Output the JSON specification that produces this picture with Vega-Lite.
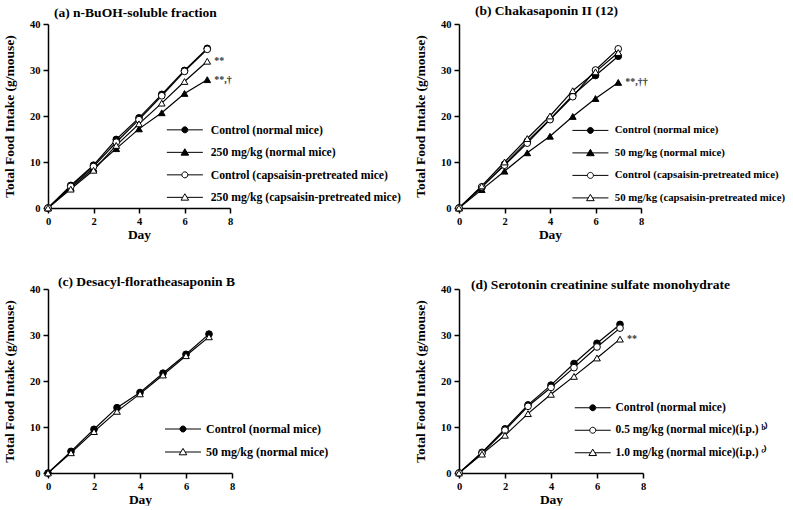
{
  "$schema": "https://vega.github.io/schema/vega-lite/v6.json",
  "background": "white",
  "padding": {"left": 2, "top": 3, "right": 0, "bottom": 0},
  "autosize": {"type": "pad"},
  "data": {"values": [
    {"panel": "a", "series": "Control (normal mice)", "day": 0, "intake": 0},
    {"panel": "a", "series": "Control (normal mice)", "day": 1, "intake": 4.9},
    {"panel": "a", "series": "Control (normal mice)", "day": 2, "intake": 9.3},
    {"panel": "a", "series": "Control (normal mice)", "day": 3, "intake": 14.9},
    {"panel": "a", "series": "Control (normal mice)", "day": 4, "intake": 19.6},
    {"panel": "a", "series": "Control (normal mice)", "day": 5, "intake": 24.7},
    {"panel": "a", "series": "Control (normal mice)", "day": 6, "intake": 29.9},
    {"panel": "a", "series": "Control (normal mice)", "day": 7, "intake": 34.7},
    {"panel": "a", "series": "250 mg/kg (normal mice)", "day": 0, "intake": 0},
    {"panel": "a", "series": "250 mg/kg (normal mice)", "day": 1, "intake": 4.4},
    {"panel": "a", "series": "250 mg/kg (normal mice)", "day": 2, "intake": 8.6},
    {"panel": "a", "series": "250 mg/kg (normal mice)", "day": 3, "intake": 12.9},
    {"panel": "a", "series": "250 mg/kg (normal mice)", "day": 4, "intake": 17.2},
    {"panel": "a", "series": "250 mg/kg (normal mice)", "day": 5, "intake": 20.7},
    {"panel": "a", "series": "250 mg/kg (normal mice)", "day": 6, "intake": 24.9},
    {"panel": "a", "series": "250 mg/kg (normal mice)", "day": 7, "intake": 27.9, "note": "**,†"},
    {"panel": "a", "series": "Control (capsaisin-pretreated mice)", "day": 0, "intake": 0},
    {"panel": "a", "series": "Control (capsaisin-pretreated mice)", "day": 1, "intake": 4.7},
    {"panel": "a", "series": "Control (capsaisin-pretreated mice)", "day": 2, "intake": 9.0},
    {"panel": "a", "series": "Control (capsaisin-pretreated mice)", "day": 3, "intake": 14.3},
    {"panel": "a", "series": "Control (capsaisin-pretreated mice)", "day": 4, "intake": 19.2},
    {"panel": "a", "series": "Control (capsaisin-pretreated mice)", "day": 5, "intake": 24.4},
    {"panel": "a", "series": "Control (capsaisin-pretreated mice)", "day": 6, "intake": 29.7},
    {"panel": "a", "series": "Control (capsaisin-pretreated mice)", "day": 7, "intake": 34.5},
    {"panel": "a", "series": "250 mg/kg (capsaisin-pretreated mice)", "day": 0, "intake": 0},
    {"panel": "a", "series": "250 mg/kg (capsaisin-pretreated mice)", "day": 1, "intake": 4.1},
    {"panel": "a", "series": "250 mg/kg (capsaisin-pretreated mice)", "day": 2, "intake": 8.2},
    {"panel": "a", "series": "250 mg/kg (capsaisin-pretreated mice)", "day": 3, "intake": 13.6},
    {"panel": "a", "series": "250 mg/kg (capsaisin-pretreated mice)", "day": 4, "intake": 18.3},
    {"panel": "a", "series": "250 mg/kg (capsaisin-pretreated mice)", "day": 5, "intake": 22.8},
    {"panel": "a", "series": "250 mg/kg (capsaisin-pretreated mice)", "day": 6, "intake": 27.5},
    {"panel": "a", "series": "250 mg/kg (capsaisin-pretreated mice)", "day": 7, "intake": 31.9, "note": "**"},

    {"panel": "b", "series": "Control (normal mice)", "day": 0, "intake": 0},
    {"panel": "b", "series": "Control (normal mice)", "day": 1, "intake": 4.5},
    {"panel": "b", "series": "Control (normal mice)", "day": 2, "intake": 9.5},
    {"panel": "b", "series": "Control (normal mice)", "day": 3, "intake": 14.5},
    {"panel": "b", "series": "Control (normal mice)", "day": 4, "intake": 19.3},
    {"panel": "b", "series": "Control (normal mice)", "day": 5, "intake": 24.5},
    {"panel": "b", "series": "Control (normal mice)", "day": 6, "intake": 28.8},
    {"panel": "b", "series": "Control (normal mice)", "day": 7, "intake": 33.0},
    {"panel": "b", "series": "50 mg/kg (normal mice)", "day": 0, "intake": 0},
    {"panel": "b", "series": "50 mg/kg (normal mice)", "day": 1, "intake": 4.0},
    {"panel": "b", "series": "50 mg/kg (normal mice)", "day": 2, "intake": 8.0},
    {"panel": "b", "series": "50 mg/kg (normal mice)", "day": 3, "intake": 12.0},
    {"panel": "b", "series": "50 mg/kg (normal mice)", "day": 4, "intake": 15.6},
    {"panel": "b", "series": "50 mg/kg (normal mice)", "day": 5, "intake": 19.9},
    {"panel": "b", "series": "50 mg/kg (normal mice)", "day": 6, "intake": 23.8},
    {"panel": "b", "series": "50 mg/kg (normal mice)", "day": 7, "intake": 27.3, "note": "**,††"},
    {"panel": "b", "series": "Control (capsaisin-pretreated mice)", "day": 0, "intake": 0},
    {"panel": "b", "series": "Control (capsaisin-pretreated mice)", "day": 1, "intake": 4.6},
    {"panel": "b", "series": "Control (capsaisin-pretreated mice)", "day": 2, "intake": 9.3},
    {"panel": "b", "series": "Control (capsaisin-pretreated mice)", "day": 3, "intake": 14.1},
    {"panel": "b", "series": "Control (capsaisin-pretreated mice)", "day": 4, "intake": 19.2},
    {"panel": "b", "series": "Control (capsaisin-pretreated mice)", "day": 5, "intake": 24.2},
    {"panel": "b", "series": "Control (capsaisin-pretreated mice)", "day": 6, "intake": 30.0},
    {"panel": "b", "series": "Control (capsaisin-pretreated mice)", "day": 7, "intake": 34.6},
    {"panel": "b", "series": "50 mg/kg (capsaisin-pretreated mice)", "day": 0, "intake": 0},
    {"panel": "b", "series": "50 mg/kg (capsaisin-pretreated mice)", "day": 1, "intake": 4.8},
    {"panel": "b", "series": "50 mg/kg (capsaisin-pretreated mice)", "day": 2, "intake": 10.0},
    {"panel": "b", "series": "50 mg/kg (capsaisin-pretreated mice)", "day": 3, "intake": 15.1},
    {"panel": "b", "series": "50 mg/kg (capsaisin-pretreated mice)", "day": 4, "intake": 20.0},
    {"panel": "b", "series": "50 mg/kg (capsaisin-pretreated mice)", "day": 5, "intake": 25.5},
    {"panel": "b", "series": "50 mg/kg (capsaisin-pretreated mice)", "day": 6, "intake": 29.6},
    {"panel": "b", "series": "50 mg/kg (capsaisin-pretreated mice)", "day": 7, "intake": 33.8},

    {"panel": "c", "series": "Control (normal mice)", "day": 0, "intake": 0},
    {"panel": "c", "series": "Control (normal mice)", "day": 1, "intake": 4.7},
    {"panel": "c", "series": "Control (normal mice)", "day": 2, "intake": 9.5},
    {"panel": "c", "series": "Control (normal mice)", "day": 3, "intake": 14.2},
    {"panel": "c", "series": "Control (normal mice)", "day": 4, "intake": 17.5},
    {"panel": "c", "series": "Control (normal mice)", "day": 5, "intake": 21.7},
    {"panel": "c", "series": "Control (normal mice)", "day": 6, "intake": 25.8},
    {"panel": "c", "series": "Control (normal mice)", "day": 7, "intake": 30.2},
    {"panel": "c", "series": "50 mg/kg (normal mice)", "day": 0, "intake": 0},
    {"panel": "c", "series": "50 mg/kg (normal mice)", "day": 1, "intake": 4.4},
    {"panel": "c", "series": "50 mg/kg (normal mice)", "day": 2, "intake": 9.0},
    {"panel": "c", "series": "50 mg/kg (normal mice)", "day": 3, "intake": 13.4},
    {"panel": "c", "series": "50 mg/kg (normal mice)", "day": 4, "intake": 17.2},
    {"panel": "c", "series": "50 mg/kg (normal mice)", "day": 5, "intake": 21.3},
    {"panel": "c", "series": "50 mg/kg (normal mice)", "day": 6, "intake": 25.5},
    {"panel": "c", "series": "50 mg/kg (normal mice)", "day": 7, "intake": 29.6},

    {"panel": "d", "series": "Control (normal mice)", "day": 0, "intake": 0},
    {"panel": "d", "series": "Control (normal mice)", "day": 1, "intake": 4.5},
    {"panel": "d", "series": "Control (normal mice)", "day": 2, "intake": 9.6},
    {"panel": "d", "series": "Control (normal mice)", "day": 3, "intake": 14.8},
    {"panel": "d", "series": "Control (normal mice)", "day": 4, "intake": 19.1},
    {"panel": "d", "series": "Control (normal mice)", "day": 5, "intake": 23.8},
    {"panel": "d", "series": "Control (normal mice)", "day": 6, "intake": 28.2},
    {"panel": "d", "series": "Control (normal mice)", "day": 7, "intake": 32.3},
    {"panel": "d", "series": "0.5 mg/kg (normal mice)(i.p.) ᵇ⁾", "day": 0, "intake": 0},
    {"panel": "d", "series": "0.5 mg/kg (normal mice)(i.p.) ᵇ⁾", "day": 1, "intake": 4.3},
    {"panel": "d", "series": "0.5 mg/kg (normal mice)(i.p.) ᵇ⁾", "day": 2, "intake": 9.3},
    {"panel": "d", "series": "0.5 mg/kg (normal mice)(i.p.) ᵇ⁾", "day": 3, "intake": 14.5},
    {"panel": "d", "series": "0.5 mg/kg (normal mice)(i.p.) ᵇ⁾", "day": 4, "intake": 18.6},
    {"panel": "d", "series": "0.5 mg/kg (normal mice)(i.p.) ᵇ⁾", "day": 5, "intake": 22.9},
    {"panel": "d", "series": "0.5 mg/kg (normal mice)(i.p.) ᵇ⁾", "day": 6, "intake": 27.4},
    {"panel": "d", "series": "0.5 mg/kg (normal mice)(i.p.) ᵇ⁾", "day": 7, "intake": 31.5},
    {"panel": "d", "series": "1.0 mg/kg (normal mice)(i.p.) ᶜ⁾", "day": 0, "intake": 0},
    {"panel": "d", "series": "1.0 mg/kg (normal mice)(i.p.) ᶜ⁾", "day": 1, "intake": 4.1},
    {"panel": "d", "series": "1.0 mg/kg (normal mice)(i.p.) ᶜ⁾", "day": 2, "intake": 8.2},
    {"panel": "d", "series": "1.0 mg/kg (normal mice)(i.p.) ᶜ⁾", "day": 3, "intake": 12.9},
    {"panel": "d", "series": "1.0 mg/kg (normal mice)(i.p.) ᶜ⁾", "day": 4, "intake": 17.1},
    {"panel": "d", "series": "1.0 mg/kg (normal mice)(i.p.) ᶜ⁾", "day": 5, "intake": 21.0},
    {"panel": "d", "series": "1.0 mg/kg (normal mice)(i.p.) ᶜ⁾", "day": 6, "intake": 25.0},
    {"panel": "d", "series": "1.0 mg/kg (normal mice)(i.p.) ᶜ⁾", "day": 7, "intake": 29.1, "note": "**"}
  ]},
  "columns": 2,
  "bounds": "flush",
  "spacing": {"row": 81, "column": 227},
  "concat": [
    {
      "width": 182, "height": 184,
      "title": {"text": "(a) n-BuOH-soluble  fraction", "dx": 6, "offset": 0},
      "transform": [{"filter": "datum.panel === 'a'"}],
      "encoding": {
        "x": {"field": "day", "type": "quantitative", "scale": {"domain": [0, 8], "nice": false}, "axis": {"values": [0, 2, 4, 6, 8], "title": "Day"}},
        "y": {"field": "intake", "type": "quantitative", "scale": {"domain": [0, 40], "nice": false}, "axis": {"values": [0, 10, 20, 30, 40], "title": "Total Food Intake (g/mouse)"}}
      },
      "layer": [
        {"mark": {"type": "line", "color": "black", "strokeWidth": 1.2}, "encoding": {"detail": {"field": "series"}}},
        {"mark": {"type": "point", "filled": true, "size": 45, "stroke": "black", "strokeWidth": 1, "opacity": 1},
         "encoding": {
           "shape": {"field": "series", "scale": {"domain": ["Control (normal mice)", "250 mg/kg (normal mice)", "Control (capsaisin-pretreated mice)", "250 mg/kg (capsaisin-pretreated mice)"], "range": ["circle", "triangle-up", "circle", "triangle-up"]}, "legend": null},
           "fill": {"field": "series", "scale": {"domain": ["Control (normal mice)", "250 mg/kg (normal mice)", "Control (capsaisin-pretreated mice)", "250 mg/kg (capsaisin-pretreated mice)"], "range": ["black", "black", "white", "white"]}, "legend": null}
         }},
        {"transform": [{"filter": "datum.day < 0"}],
         "mark": {"type": "point", "filled": true, "stroke": "black", "strokeWidth": 1, "opacity": 1},
         "encoding": {
           "shape": {"field": "series", "scale": {"domain": ["Control (normal mice)", "250 mg/kg (normal mice)", "Control (capsaisin-pretreated mice)", "250 mg/kg (capsaisin-pretreated mice)"], "range": ["M-4.5,0L-0.75,0M0.75,0L4.5,0M0.75,0A0.75,0.75,0,1,1,-0.75,0A0.75,0.75,0,1,1,0.75,0Z", "M-4.5,0L-0.55,0M0.55,0L4.5,0M0,-0.9L0.95,0.7L-0.95,0.7Z", "M-4.5,0L-0.75,0M0.75,0L4.5,0M0.75,0A0.75,0.75,0,1,1,-0.75,0A0.75,0.75,0,1,1,0.75,0Z", "M-4.5,0L-0.55,0M0.55,0L4.5,0M0,-0.9L0.95,0.7L-0.95,0.7Z"]},
             "legend": {"title": null, "orient": "none", "legendX": 131, "legendY": 100, "labelFontSize": 11.7, "encode": {"symbols": {"update": {"stroke": {"value": "black"}, "strokeWidth": {"value": 1}, "opacity": {"value": 1}}}}}},
           "fill": {"field": "series", "scale": {"domain": ["Control (normal mice)", "250 mg/kg (normal mice)", "Control (capsaisin-pretreated mice)", "250 mg/kg (capsaisin-pretreated mice)"], "range": ["black", "black", "white", "white"]},
             "legend": {"title": null, "orient": "none", "legendX": 131, "legendY": 100, "labelFontSize": 11.7, "encode": {"symbols": {"update": {"stroke": {"value": "black"}, "strokeWidth": {"value": 1}, "opacity": {"value": 1}}}}}}
         }},
        {"transform": [{"filter": "datum.note"}],
         "mark": {"type": "text", "align": "left", "baseline": "middle", "dx": 7, "font": "Liberation Serif", "fontSize": 10, "fontWeight": "bold", "color": "#333"},
         "encoding": {"text": {"field": "note"}}}
      ],
      "resolve": {"scale": {"shape": "independent", "fill": "independent"}}
    },
    {
      "width": 182, "height": 184,
      "title": {"text": "(b) Chakasaponin II (12)", "dx": 16, "offset": 2},
      "transform": [{"filter": "datum.panel === 'b'"}],
      "encoding": {
        "x": {"field": "day", "type": "quantitative", "scale": {"domain": [0, 8], "nice": false}, "axis": {"values": [0, 2, 4, 6, 8], "title": "Day"}},
        "y": {"field": "intake", "type": "quantitative", "scale": {"domain": [0, 40], "nice": false}, "axis": {"values": [0, 10, 20, 30, 40], "title": "Total Food Intake (g/mouse)"}}
      },
      "layer": [
        {"mark": {"type": "line", "color": "black", "strokeWidth": 1.2}, "encoding": {"detail": {"field": "series"}}},
        {"mark": {"type": "point", "filled": true, "size": 45, "stroke": "black", "strokeWidth": 1, "opacity": 1},
         "encoding": {
           "shape": {"field": "series", "scale": {"domain": ["Control (normal mice)", "50 mg/kg (normal mice)", "Control (capsaisin-pretreated mice)", "50 mg/kg (capsaisin-pretreated mice)"], "range": ["circle", "triangle-up", "circle", "triangle-up"]}, "legend": null},
           "fill": {"field": "series", "scale": {"domain": ["Control (normal mice)", "50 mg/kg (normal mice)", "Control (capsaisin-pretreated mice)", "50 mg/kg (capsaisin-pretreated mice)"], "range": ["black", "black", "white", "white"]}, "legend": null}
         }},
        {"transform": [{"filter": "datum.day < 0"}],
         "mark": {"type": "point", "filled": true, "stroke": "black", "strokeWidth": 1, "opacity": 1},
         "encoding": {
           "shape": {"field": "series", "scale": {"domain": ["Control (normal mice)", "50 mg/kg (normal mice)", "Control (capsaisin-pretreated mice)", "50 mg/kg (capsaisin-pretreated mice)"], "range": ["M-4.5,0L-0.75,0M0.75,0L4.5,0M0.75,0A0.75,0.75,0,1,1,-0.75,0A0.75,0.75,0,1,1,0.75,0Z", "M-4.5,0L-0.55,0M0.55,0L4.5,0M0,-0.9L0.95,0.7L-0.95,0.7Z", "M-4.5,0L-0.75,0M0.75,0L4.5,0M0.75,0A0.75,0.75,0,1,1,-0.75,0A0.75,0.75,0,1,1,0.75,0Z", "M-4.5,0L-0.55,0M0.55,0L4.5,0M0,-0.9L0.95,0.7L-0.95,0.7Z"]},
             "legend": {"title": null, "orient": "none", "legendX": 126, "legendY": 101, "labelFontSize": 10.8, "labelOffset": 19, "rowPadding": 10.5, "encode": {"symbols": {"update": {"stroke": {"value": "black"}, "strokeWidth": {"value": 1}, "opacity": {"value": 1}}}}}},
           "fill": {"field": "series", "scale": {"domain": ["Control (normal mice)", "50 mg/kg (normal mice)", "Control (capsaisin-pretreated mice)", "50 mg/kg (capsaisin-pretreated mice)"], "range": ["black", "black", "white", "white"]},
             "legend": {"title": null, "orient": "none", "legendX": 126, "legendY": 101, "labelFontSize": 10.8, "labelOffset": 19, "rowPadding": 10.5, "encode": {"symbols": {"update": {"stroke": {"value": "black"}, "strokeWidth": {"value": 1}, "opacity": {"value": 1}}}}}}
         }},
        {"transform": [{"filter": "datum.note"}],
         "mark": {"type": "text", "align": "left", "baseline": "middle", "dx": 7, "font": "Liberation Serif", "fontSize": 10, "fontWeight": "bold", "color": "#333"},
         "encoding": {"text": {"field": "note"}}}
      ],
      "resolve": {"scale": {"shape": "independent", "fill": "independent"}}
    },
    {
      "width": 184, "height": 184,
      "title": {"text": "(c) Desacyl-floratheasaponin B", "dx": 10, "offset": -4},
      "transform": [{"filter": "datum.panel === 'c'"}],
      "encoding": {
        "x": {"field": "day", "type": "quantitative", "scale": {"domain": [0, 8], "nice": false}, "axis": {"values": [0, 2, 4, 6, 8], "title": "Day"}},
        "y": {"field": "intake", "type": "quantitative", "scale": {"domain": [0, 40], "nice": false}, "axis": {"values": [0, 10, 20, 30, 40], "title": "Total Food Intake (g/mouse)"}}
      },
      "layer": [
        {"mark": {"type": "line", "color": "black", "strokeWidth": 1.2}, "encoding": {"detail": {"field": "series"}}},
        {"mark": {"type": "point", "filled": true, "size": 45, "stroke": "black", "strokeWidth": 1, "opacity": 1},
         "encoding": {
           "shape": {"field": "series", "scale": {"domain": ["Control (normal mice)", "50 mg/kg (normal mice)"], "range": ["circle", "triangle-up"]}, "legend": null},
           "fill": {"field": "series", "scale": {"domain": ["Control (normal mice)", "50 mg/kg (normal mice)"], "range": ["black", "white"]}, "legend": null}
         }},
        {"transform": [{"filter": "datum.day < 0"}],
         "mark": {"type": "point", "filled": true, "stroke": "black", "strokeWidth": 1, "opacity": 1},
         "encoding": {
           "shape": {"field": "series", "scale": {"domain": ["Control (normal mice)", "50 mg/kg (normal mice)"], "range": ["M-4.5,0L-0.75,0M0.75,0L4.5,0M0.75,0A0.75,0.75,0,1,1,-0.75,0A0.75,0.75,0,1,1,0.75,0Z", "M-4.5,0L-0.55,0M0.55,0L4.5,0M0,-0.9L0.95,0.7L-0.95,0.7Z"]},
             "legend": {"title": null, "orient": "none", "legendX": 129, "legendY": 134, "labelOffset": 17, "rowPadding": 11, "encode": {"symbols": {"update": {"stroke": {"value": "black"}, "strokeWidth": {"value": 1}, "opacity": {"value": 1}}}}}},
           "fill": {"field": "series", "scale": {"domain": ["Control (normal mice)", "50 mg/kg (normal mice)"], "range": ["black", "white"]},
             "legend": {"title": null, "orient": "none", "legendX": 129, "legendY": 134, "labelOffset": 17, "rowPadding": 11, "encode": {"symbols": {"update": {"stroke": {"value": "black"}, "strokeWidth": {"value": 1}, "opacity": {"value": 1}}}}}}
         }}
      ],
      "resolve": {"scale": {"shape": "independent", "fill": "independent"}}
    },
    {
      "width": 184, "height": 184,
      "title": {"text": "(d) Serotonin creatinine sulfate monohydrate", "dx": 12, "offset": -7},
      "transform": [{"filter": "datum.panel === 'd'"}],
      "encoding": {
        "x": {"field": "day", "type": "quantitative", "scale": {"domain": [0, 8], "nice": false}, "axis": {"values": [0, 2, 4, 6, 8], "title": "Day"}},
        "y": {"field": "intake", "type": "quantitative", "scale": {"domain": [0, 40], "nice": false}, "axis": {"values": [0, 10, 20, 30, 40], "title": "Total Food Intake (g/mouse)"}}
      },
      "layer": [
        {"mark": {"type": "line", "color": "black", "strokeWidth": 1.2}, "encoding": {"detail": {"field": "series"}}},
        {"mark": {"type": "point", "filled": true, "size": 45, "stroke": "black", "strokeWidth": 1, "opacity": 1},
         "encoding": {
           "shape": {"field": "series", "scale": {"domain": ["Control (normal mice)", "0.5 mg/kg (normal mice)(i.p.) ᵇ⁾", "1.0 mg/kg (normal mice)(i.p.) ᶜ⁾"], "range": ["circle", "circle", "triangle-up"]}, "legend": null},
           "fill": {"field": "series", "scale": {"domain": ["Control (normal mice)", "0.5 mg/kg (normal mice)(i.p.) ᵇ⁾", "1.0 mg/kg (normal mice)(i.p.) ᶜ⁾"], "range": ["black", "white", "white"]}, "legend": null}
         }},
        {"transform": [{"filter": "datum.day < 0"}],
         "mark": {"type": "point", "filled": true, "stroke": "black", "strokeWidth": 1, "opacity": 1},
         "encoding": {
           "shape": {"field": "series", "scale": {"domain": ["Control (normal mice)", "0.5 mg/kg (normal mice)(i.p.) ᵇ⁾", "1.0 mg/kg (normal mice)(i.p.) ᶜ⁾"], "range": ["M-4.5,0L-0.75,0M0.75,0L4.5,0M0.75,0A0.75,0.75,0,1,1,-0.75,0A0.75,0.75,0,1,1,0.75,0Z", "M-4.5,0L-0.75,0M0.75,0L4.5,0M0.75,0A0.75,0.75,0,1,1,-0.75,0A0.75,0.75,0,1,1,0.75,0Z", "M-4.5,0L-0.55,0M0.55,0L4.5,0M0,-0.9L0.95,0.7L-0.95,0.7Z"]},
             "legend": {"title": null, "orient": "none", "legendX": 128, "legendY": 113, "labelOffset": 17, "labelFontSize": 11.5, "encode": {"symbols": {"update": {"stroke": {"value": "black"}, "strokeWidth": {"value": 1}, "opacity": {"value": 1}}}}}},
           "fill": {"field": "series", "scale": {"domain": ["Control (normal mice)", "0.5 mg/kg (normal mice)(i.p.) ᵇ⁾", "1.0 mg/kg (normal mice)(i.p.) ᶜ⁾"], "range": ["black", "white", "white"]},
             "legend": {"title": null, "orient": "none", "legendX": 128, "legendY": 113, "labelOffset": 17, "labelFontSize": 11.5, "encode": {"symbols": {"update": {"stroke": {"value": "black"}, "strokeWidth": {"value": 1}, "opacity": {"value": 1}}}}}}
         }},
        {"transform": [{"filter": "datum.note"}],
         "mark": {"type": "text", "align": "left", "baseline": "middle", "dx": 7, "font": "Liberation Serif", "fontSize": 10, "fontWeight": "bold", "color": "#333"},
         "encoding": {"text": {"field": "note"}}}
      ],
      "resolve": {"scale": {"shape": "independent", "fill": "independent"}}
    }
  ],
  "config": {
    "view": {"stroke": null},
    "font": "Liberation Serif",
    "title": {"font": "Liberation Serif", "fontSize": 13.5, "fontWeight": "bold", "color": "black", "anchor": "start", "frame": "group", "baseline": "alphabetic"},
    "axis": {"labelFont": "Liberation Serif", "labelFontSize": 10.5, "labelFontWeight": "bold", "labelColor": "black", "labelFlush": false, "labelPadding": 3,
             "titleFont": "Liberation Serif", "titleFontSize": 13.5, "titleFontWeight": "bold", "titleColor": "black",
             "domainColor": "black", "domainWidth": 1.5, "tickColor": "black", "tickWidth": 1.5, "tickSize": 5, "grid": false},
    "axisX": {"titlePadding": 1},
    "axisY": {"titlePadding": 13},
    "legend": {"symbolSize": 64, "symbolStrokeColor": "black", "symbolStrokeWidth": 1, "symbolOpacity": 1, "labelOffset": 20, "rowPadding": 9.5, "padding": 0,
               "labelFont": "Liberation Serif", "labelFontSize": 12, "labelFontWeight": "bold", "labelColor": "black", "labelLimit": 0}
  }
}
